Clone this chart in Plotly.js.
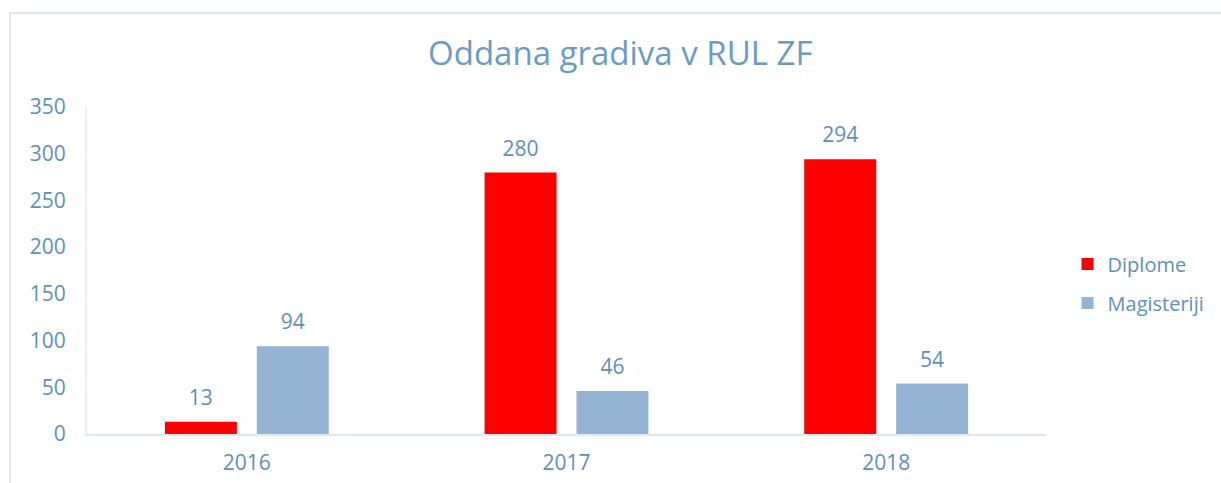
<!DOCTYPE html>
<html>
<head>
<meta charset="utf-8">
<script src="https://cdn.plot.ly/plotly-3.0.1.min.js"></script>
<style>
  html, body { margin: 0; padding: 0; background: #fff; overflow: hidden; }
  #frame { position: absolute; left: 9px; top: 12px; width: 1240px; height: 520px; border: 2px solid #dde7f0; box-sizing: border-box; }
  #chart { position: absolute; left: 0; top: 0; width: 1221px; height: 483px; }
</style>
</head>
<body>
<div id="frame"></div>
<div id="chart"></div>
<script>
const categories = ["2016", "2017", "2018"];
const diplome = [13, 280, 294];
const magisteriji = [94, 46, 54];
const seriesNames = ["Diplome", "Magisteriji"];
const yTicks = [0, 50, 100, 150, 200, 250, 300, 350];

const textColor = "#5e8fbd";
const fontFamily = "'Open Sans', 'Noto Sans', sans-serif";
const barGap = 0.425;

function barTrace(name, values, color, legendId, group) {
  return {
    type: "bar", name: name, x: categories, y: values,
    marker: { color: color }, offsetgroup: group, legend: legendId
  };
}
function labelTrace(values, group) {
  return {
    type: "scatter", mode: "markers+text", x: categories, y: values,
    text: values.map(String), textposition: "top center",
    marker: { size: 17, opacity: 0 }, cliponaxis: false,
    textfont: { color: textColor, size: 21, family: fontFamily },
    offsetgroup: group, showlegend: false, hoverinfo: "skip"
  };
}

const traces = [
  barTrace(seriesNames[0], diplome, "#ff0000", "legend", "d"),
  barTrace(seriesNames[1], magisteriji, "#95b3d3", "legend2", "m"),
  labelTrace(diplome, "d"),
  labelTrace(magisteriji, "m")
];

const legendCommon = {
  xref: "paper", yref: "paper", xanchor: "left", yanchor: "middle",
  font: { color: textColor, size: 20, family: fontFamily },
  bgcolor: "rgba(0,0,0,0)", itemwidth: 30
};

const layout = {
  width: 1221, height: 483,
  margin: { l: 87, r: 174, t: 107, b: 49 },
  paper_bgcolor: "rgba(0,0,0,0)", plot_bgcolor: "rgba(0,0,0,0)",
  font: { family: fontFamily, color: textColor },
  title: {
    text: "Oddana gradiva v RUL ZF",
    font: { size: 33, color: "#6b9bc5", family: fontFamily },
    xref: "container", x: 0.508, yref: "container", y: 0.89, yanchor: "middle"
  },
  barmode: "group", bargap: barGap, bargroupgap: 0.217,
  scattermode: "group", scattergap: barGap,
  showlegend: true,
  legend: Object.assign({}, legendCommon, { x: 1.0214, y: (434 - 264) / 327 }),
  legend2: Object.assign({}, legendCommon, { x: 1.0214, y: (434 - 303) / 327 }),
  xaxis: {
    type: "category", showline: true, linecolor: "#dde7f0", linewidth: 2,
    ticks: "", ticklabelstandoff: 9,
    tickfont: { size: 21, color: textColor, family: fontFamily },
    showgrid: false, zeroline: false
  },
  yaxis: {
    range: [0, 350], tickvals: yTicks, showline: true, linecolor: "#eceff2", linewidth: 2,
    ticks: "", ticklabelstandoff: 15,
    tickfont: { size: 21, color: textColor, family: fontFamily },
    showgrid: false, zeroline: false
  }
};

Plotly.newPlot("chart", traces, layout, { displayModeBar: false, staticPlot: true });
</script>
</body>
</html>
